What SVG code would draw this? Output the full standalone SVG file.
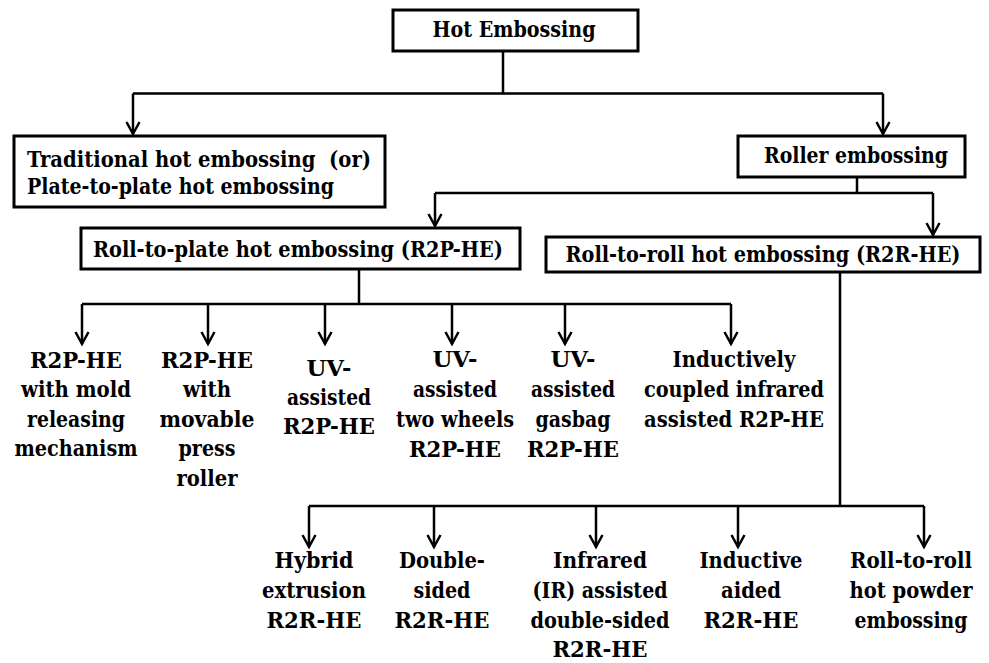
<svg xmlns="http://www.w3.org/2000/svg" width="989" height="663" viewBox="0 0 989 663">
<style>
  .box{fill:#fff;stroke:#000;stroke-width:3}
  .t{font-family:"DejaVu Serif Condensed","DejaVu Serif","Liberation Serif",serif;font-stretch:condensed;font-weight:bold;font-size:23px;fill:#000}
  .c{text-anchor:middle}
  .ln{fill:none;stroke:#000;stroke-width:2.5}
  .ar{fill:none;stroke:#000;stroke-width:2.5;marker-end:url(#v)}
</style>
<defs>
  <marker id="v" markerUnits="userSpaceOnUse" orient="auto" refX="0" refY="0" markerWidth="20" markerHeight="20" viewBox="-14 -10 16 20" overflow="visible">
    <path d="M-12,-6.5 L0,0 L-12,6.5" fill="none" stroke="#000" stroke-width="2.5"/>
  </marker>
</defs>
<rect width="989" height="663" fill="#fff"/>
<g id="connectors">
  <path class="ln" d="M503,51 V93.5 M133,93.5 H883"/>
  <path class="ar" d="M133,93.5 V134"/>
  <path class="ar" d="M883,93.5 V134"/>
  <path class="ln" d="M857,177 V193 M435,193 H933"/>
  <path class="ar" d="M435,193 V226"/>
  <path class="ar" d="M933,193 V235"/>
  <path class="ln" d="M359,269 V304 M82,304 H731"/>
  <path class="ar" d="M82,304 V344"/>
  <path class="ar" d="M208,304 V344"/>
  <path class="ar" d="M325,304 V344"/>
  <path class="ar" d="M452,304 V344"/>
  <path class="ar" d="M565,304 V344"/>
  <path class="ar" d="M731,304 V344"/>
  <path class="ln" d="M840,272 V506 M309,506 H924"/>
  <path class="ar" d="M309,506 V547"/>
  <path class="ar" d="M434,506 V547"/>
  <path class="ar" d="M596,506 V547"/>
  <path class="ar" d="M738,506 V547"/>
  <path class="ar" d="M924,506 V547"/>
</g>
<g id="hot-embossing">
  <rect class="box" x="393" y="10" width="245" height="41"/>
  <text class="t c" x="514" y="37" textLength="163" lengthAdjust="spacingAndGlyphs">Hot Embossing</text>
</g>
<g id="traditional">
  <rect class="box" x="14" y="136" width="371" height="71"/>
  <text class="t" x="27" y="167" xml:space="preserve" textLength="344" lengthAdjust="spacingAndGlyphs">Traditional hot embossing  (or)</text>
  <text class="t" x="27" y="194" textLength="307" lengthAdjust="spacingAndGlyphs">Plate-to-plate hot embossing</text>
</g>
<g id="roller">
  <rect class="box" x="738" y="136" width="227" height="41"/>
  <text class="t c" x="856" y="163" textLength="184" lengthAdjust="spacingAndGlyphs">Roller embossing</text>
</g>
<g id="r2p">
  <rect class="box" x="81" y="228" width="439" height="41"/>
  <text class="t c" x="298" y="257" textLength="410" lengthAdjust="spacingAndGlyphs">Roll-to-plate hot embossing (R2P-HE)</text>
</g>
<g id="r2r">
  <rect class="box" x="546" y="237" width="434" height="35"/>
  <text class="t c" x="763" y="262" textLength="395" lengthAdjust="spacingAndGlyphs">Roll-to-roll hot embossing (R2R-HE)</text>
</g>
<g id="r2p-mold">
  <text class="t c" x="76" y="368" textLength="92" lengthAdjust="spacingAndGlyphs">R2P-HE</text>
  <text class="t c" x="76" y="397" textLength="110" lengthAdjust="spacingAndGlyphs">with mold</text>
  <text class="t c" x="76" y="427" textLength="98" lengthAdjust="spacingAndGlyphs">releasing</text>
  <text class="t c" x="76" y="456" textLength="123" lengthAdjust="spacingAndGlyphs">mechanism</text>
</g>
<g id="r2p-movable">
  <text class="t c" x="207" y="368" textLength="92" lengthAdjust="spacingAndGlyphs">R2P-HE</text>
  <text class="t c" x="207" y="397" textLength="48" lengthAdjust="spacingAndGlyphs">with</text>
  <text class="t c" x="207" y="427" textLength="95" lengthAdjust="spacingAndGlyphs">movable</text>
  <text class="t c" x="207" y="456" textLength="57" lengthAdjust="spacingAndGlyphs">press</text>
  <text class="t c" x="207" y="486" textLength="61" lengthAdjust="spacingAndGlyphs">roller</text>
</g>
<g id="uv-assisted">
  <text class="t c" x="329" y="376" textLength="45" lengthAdjust="spacingAndGlyphs">UV-</text>
  <text class="t c" x="329" y="405" textLength="84" lengthAdjust="spacingAndGlyphs">assisted</text>
  <text class="t c" x="329" y="434" textLength="92" lengthAdjust="spacingAndGlyphs">R2P-HE</text>
</g>
<g id="uv-two-wheels">
  <text class="t c" x="455" y="367" textLength="45" lengthAdjust="spacingAndGlyphs">UV-</text>
  <text class="t c" x="455" y="397" textLength="84" lengthAdjust="spacingAndGlyphs">assisted</text>
  <text class="t c" x="455" y="427" textLength="118" lengthAdjust="spacingAndGlyphs">two wheels</text>
  <text class="t c" x="455" y="457" textLength="92" lengthAdjust="spacingAndGlyphs">R2P-HE</text>
</g>
<g id="uv-gasbag">
  <text class="t c" x="573" y="367" textLength="45" lengthAdjust="spacingAndGlyphs">UV-</text>
  <text class="t c" x="573" y="397" textLength="84" lengthAdjust="spacingAndGlyphs">assisted</text>
  <text class="t c" x="573" y="427" textLength="75" lengthAdjust="spacingAndGlyphs">gasbag</text>
  <text class="t c" x="573" y="457" textLength="92" lengthAdjust="spacingAndGlyphs">R2P-HE</text>
</g>
<g id="inductively-coupled">
  <text class="t c" x="734" y="367" textLength="123" lengthAdjust="spacingAndGlyphs">Inductively</text>
  <text class="t c" x="734" y="397" textLength="180" lengthAdjust="spacingAndGlyphs">coupled infrared</text>
  <text class="t c" x="734" y="427" textLength="180" lengthAdjust="spacingAndGlyphs">assisted R2P-HE</text>
</g>
<g id="hybrid">
  <text class="t c" x="314" y="568" textLength="79" lengthAdjust="spacingAndGlyphs">Hybrid</text>
  <text class="t c" x="314" y="598" textLength="104" lengthAdjust="spacingAndGlyphs">extrusion</text>
  <text class="t c" x="314" y="628" textLength="95" lengthAdjust="spacingAndGlyphs">R2R-HE</text>
</g>
<g id="double-sided">
  <text class="t c" x="442" y="568" textLength="86" lengthAdjust="spacingAndGlyphs">Double-</text>
  <text class="t c" x="442" y="598" textLength="57" lengthAdjust="spacingAndGlyphs">sided</text>
  <text class="t c" x="442" y="628" textLength="95" lengthAdjust="spacingAndGlyphs">R2R-HE</text>
</g>
<g id="ir-assisted">
  <text class="t c" x="600" y="568" textLength="94" lengthAdjust="spacingAndGlyphs">Infrared</text>
  <text class="t c" x="600" y="598" textLength="135" lengthAdjust="spacingAndGlyphs">(IR) assisted</text>
  <text class="t c" x="600" y="628" textLength="139" lengthAdjust="spacingAndGlyphs">double-sided</text>
  <text class="t c" x="600" y="657" textLength="95" lengthAdjust="spacingAndGlyphs">R2R-HE</text>
</g>
<g id="inductive-aided">
  <text class="t c" x="751" y="568" textLength="103" lengthAdjust="spacingAndGlyphs">Inductive</text>
  <text class="t c" x="751" y="598" textLength="60" lengthAdjust="spacingAndGlyphs">aided</text>
  <text class="t c" x="751" y="628" textLength="95" lengthAdjust="spacingAndGlyphs">R2R-HE</text>
</g>
<g id="r2r-powder">
  <text class="t c" x="911" y="568" textLength="122" lengthAdjust="spacingAndGlyphs">Roll-to-roll</text>
  <text class="t c" x="911" y="598" textLength="123" lengthAdjust="spacingAndGlyphs">hot powder</text>
  <text class="t c" x="911" y="628" textLength="113" lengthAdjust="spacingAndGlyphs">embossing</text>
</g>
</svg>
